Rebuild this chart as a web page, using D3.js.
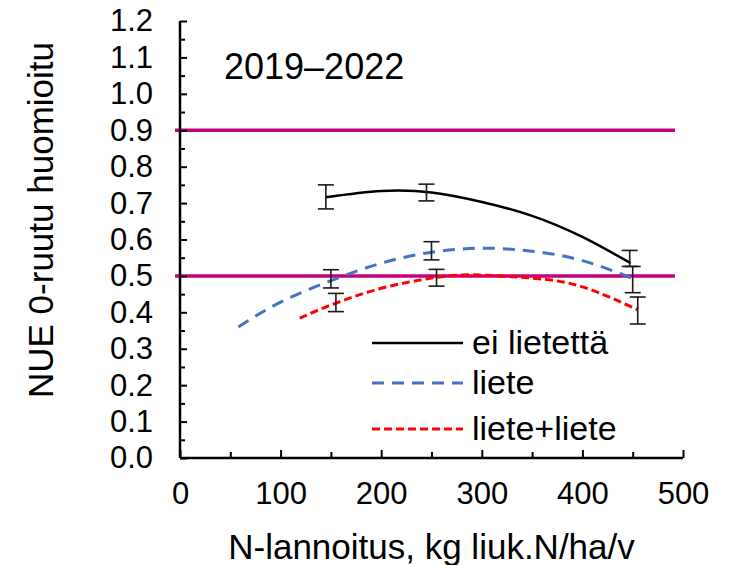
<!DOCTYPE html>
<html>
<head>
<meta charset="utf-8">
<script src="https://cdn.jsdelivr.net/npm/d3@7"></script>
<style>
  body { margin: 0; background: #fff; }
  svg text { font-family: "Liberation Sans", Arial, sans-serif; fill: #000; }
</style>
</head>
<body>
<svg id="chart" width="738" height="565"></svg>
<script>
// trend curves (x = kg N/ha/v, y = NUE)
const blackX = [145, 200, 250, 300, 350, 400, 448];
const blackY = [0.716, 0.733, 0.729, 0.703, 0.665, 0.607, 0.535];
const blueX = [58, 100, 150, 200, 250, 300, 350, 400, 450];
const blueY = [0.360, 0.428, 0.487, 0.535, 0.565, 0.576, 0.568, 0.542, 0.493];
const redX = [119, 150, 200, 250, 290, 350, 400, 455];
const redY = [0.384, 0.420, 0.466, 0.494, 0.503, 0.494, 0.470, 0.407];

// measured means with error bars
const blackPtsX = [145, 245, 447];
const blackPtsY = [0.717, 0.729, 0.548];
const blackErr = [0.033, 0.023, 0.022];
const bluePtsX = [150, 250, 450];
const bluePtsY = [0.492, 0.569, 0.490];
const blueErr = [0.025, 0.025, 0.036];
const redPtsX = [155, 255, 455];
const redPtsY = [0.427, 0.495, 0.405];
const redErr = [0.025, 0.023, 0.037];

const refLevels = [0.9, 0.5];
const refRange = [-5, 492];

const seriesNames = ["ei lietettä", "liete", "liete+liete"];
const xTicks = [0, 100, 200, 300, 400, 500];
const yTicks = [0, 0.1, 0.2, 0.3, 0.4, 0.5, 0.6, 0.7, 0.8, 0.9, 1.0, 1.1, 1.2];
const periodLabel = "2019–2022";
const xTitle = "N-lannoitus, kg liuk.N/ha/v";
const yTitle = "NUE 0-ruutu huomioitu";

const margin = {top: 21, right: 55, bottom: 107, left: 180};
const svg = d3.select("#chart");
const width = +svg.attr("width"), height = +svg.attr("height");

const x = d3.scaleLinear().domain([0, 500]).range([margin.left, width - margin.right]);
const y = d3.scaleLinear().domain([0, 1.2]).range([height - margin.bottom, margin.top]);

const styles = [
  {color: "#000000", dash: null, w: 2.5},
  {color: "#4472c4", dash: "12,8", w: 3},
  {color: "#ff0000", dash: "8,4", w: 3}
];

// reference lines
svg.append("g").selectAll("line").data(refLevels).join("line")
  .attr("x1", x(refRange[0])).attr("x2", x(refRange[1]))
  .attr("y1", d => y(d)).attr("y2", d => y(d))
  .attr("stroke", "#c8007e").attr("stroke-width", 3.5);

// minor ticks
svg.append("g").attr("transform", `translate(${x(0)},0)`)
  .call(d3.axisLeft(y).tickValues(d3.range(0.05, 1.2, 0.1)).tickSize(-5).tickFormat(""))
  .call(g => g.select(".domain").remove())
  .selectAll("line").attr("stroke-width", 2);
svg.append("g").attr("transform", `translate(0,${y(0)})`)
  .call(d3.axisBottom(x).tickValues(d3.range(50, 500, 100)).tickSize(-6).tickFormat(""))
  .call(g => g.select(".domain").remove())
  .selectAll("line").attr("stroke-width", 2);

// main axes
const yAxis = svg.append("g").attr("transform", `translate(${x(0)},0)`)
  .call(d3.axisLeft(y).tickValues(yTicks).tickSize(-7).tickPadding(27).tickFormat(d3.format(".1f")));
const xAxis = svg.append("g").attr("transform", `translate(0,${y(0)})`)
  .call(d3.axisBottom(x).tickValues(xTicks).tickSize(-8).tickPadding(24).tickFormat(d3.format("d")));

[yAxis, xAxis].forEach(g => {
  g.select(".domain").attr("stroke-width", 2.5);
  g.selectAll("line").attr("stroke-width", 2);
  g.selectAll("text").attr("font-size", 31).attr("font-family", "Liberation Sans, Arial, sans-serif");
});
yAxis.select(".domain").attr("d", `M0,${y(1.2)}V${y(0)}`);
xAxis.select(".domain").attr("d", `M${x(0)},0H${x(500)}`);

// trend curves
const curveData = [
  blackX.map((v, i) => [v, blackY[i]]),
  blueX.map((v, i) => [v, blueY[i]]),
  redX.map((v, i) => [v, redY[i]])
];
const line = d3.line().x(d => x(d[0])).y(d => y(d[1])).curve(d3.curveNatural);
svg.append("g").selectAll("path").data(curveData).join("path")
  .attr("d", line)
  .attr("fill", "none")
  .attr("stroke", (d, i) => styles[i].color)
  .attr("stroke-width", (d, i) => styles[i].w)
  .attr("stroke-dasharray", (d, i) => styles[i].dash);

// error bars
const bars = [];
[[blackPtsX, blackPtsY, blackErr], [bluePtsX, bluePtsY, blueErr], [redPtsX, redPtsY, redErr]]
  .forEach(([xs, ys, es]) => xs.forEach((v, i) => bars.push({x: v, lo: ys[i] - es[i], hi: ys[i] + es[i]})));
const eb = svg.append("g").attr("stroke", "#1a1a1a").attr("stroke-width", 1.6);
const cap = 8;
bars.forEach(b => {
  eb.append("line").attr("x1", x(b.x)).attr("x2", x(b.x)).attr("y1", y(b.lo)).attr("y2", y(b.hi));
  eb.append("line").attr("x1", x(b.x) - cap).attr("x2", x(b.x) + cap).attr("y1", y(b.lo)).attr("y2", y(b.lo));
  eb.append("line").attr("x1", x(b.x) - cap).attr("x2", x(b.x) + cap).attr("y1", y(b.hi)).attr("y2", y(b.hi));
});

// legend
const legend = svg.append("g").attr("transform", "translate(372,343)");
seriesNames.forEach((name, i) => {
  const row = legend.append("g").attr("transform", `translate(0,${[0, 40, 86][i]})`);
  row.append("line").attr("x1", 0).attr("x2", 91)
    .attr("stroke", styles[i].color).attr("stroke-width", styles[i].w)
    .attr("stroke-dasharray", styles[i].dash);
  row.append("text").attr("x", 100).attr("y", 11).attr("font-size", 34).text(name);
});

// texts
svg.append("text").attr("x", 224).attr("y", 79).attr("font-size", 36).text(periodLabel);
svg.append("text").attr("x", (x(0) + x(500)) / 2).attr("y", 559)
  .attr("text-anchor", "middle").attr("font-size", 35).text(xTitle);
svg.append("text").attr("transform", `translate(53,220)rotate(-90)`)
  .attr("text-anchor", "middle").attr("font-size", 35).text(yTitle);
</script>
</body>
</html>
